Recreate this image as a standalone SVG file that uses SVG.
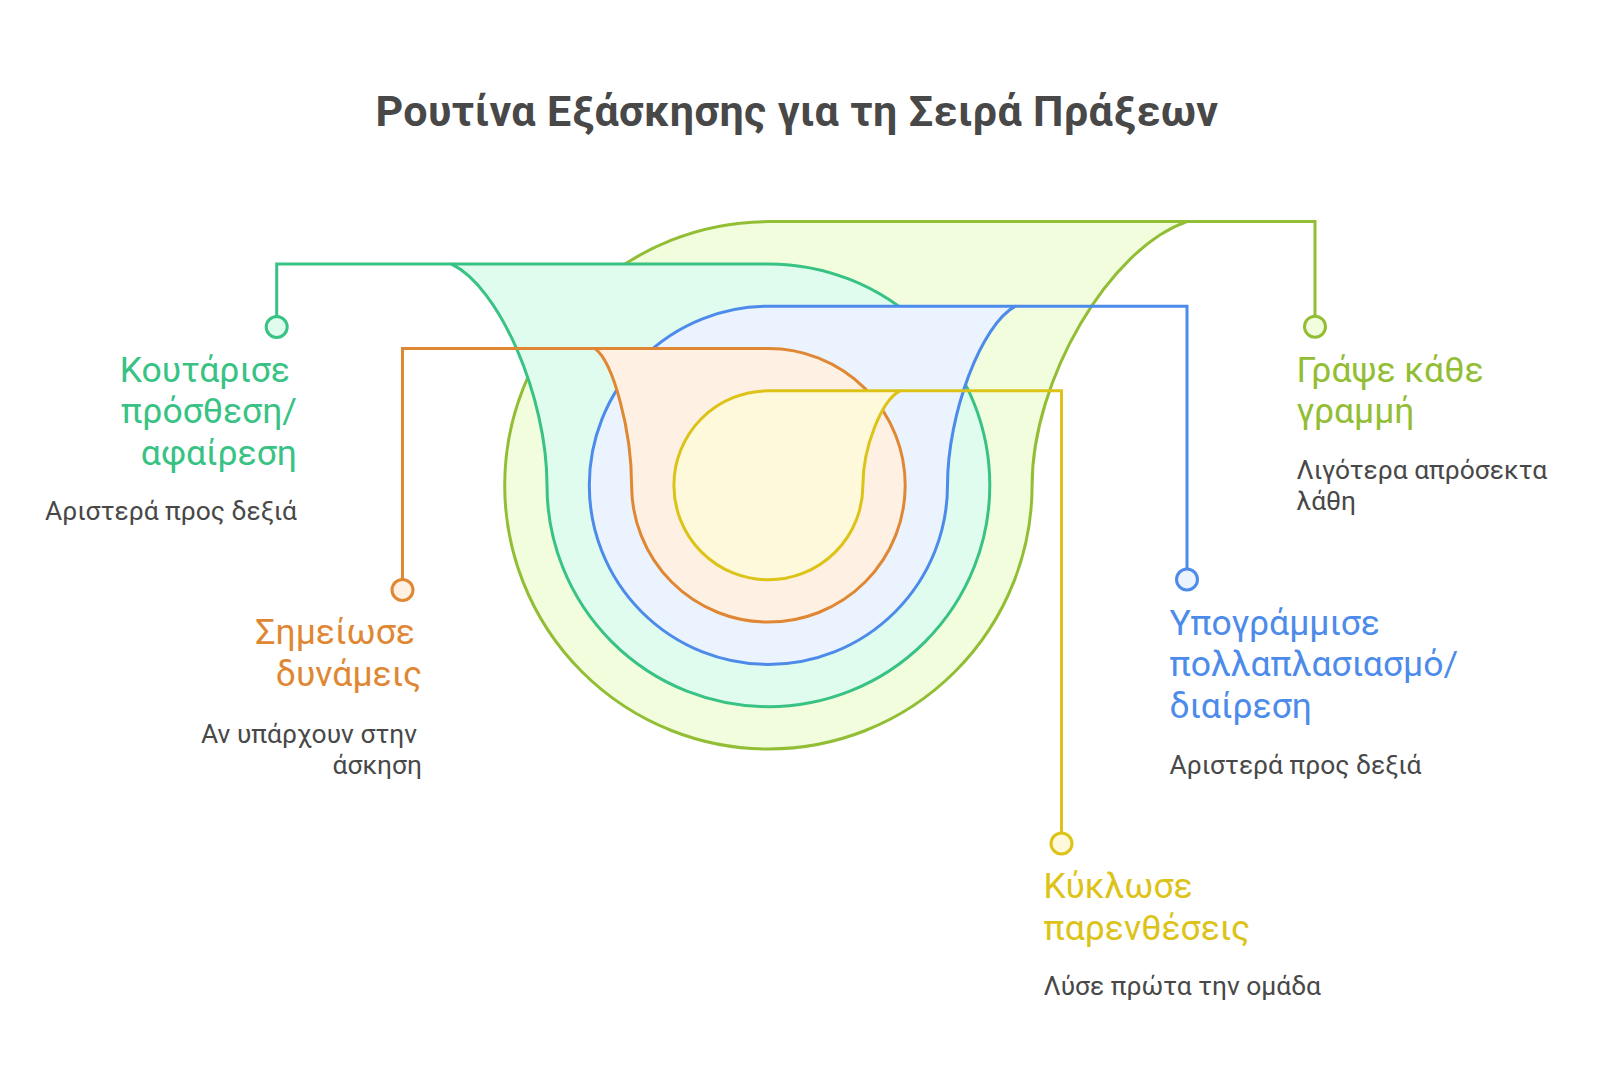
<svg xmlns="http://www.w3.org/2000/svg" width="1600" height="1087" viewBox="0 0 1600 1087">
<style>
.title{font-family:Roboto,"Liberation Sans",sans-serif;font-weight:700;font-size:43px;letter-spacing:0.4px;fill:#484848}
.lbl{font-family:Roboto,"Liberation Sans",sans-serif;font-size:35.5px}
.desc{font-family:Roboto,"Liberation Sans",sans-serif;font-size:26.4px;fill:#484848}
.shape{stroke-width:3;stroke-linejoin:round}
.conn{fill:none;stroke-width:3}
.dot{stroke-width:3}
.lime{stroke:#92BE35}.limef{fill:#F1FDDD}.limet{fill:#92BE35}
.green{stroke:#38C284}.greenf{fill:#E0FCEF}.greent{fill:#38C284}
.blue{stroke:#4D8BEA}.bluef{fill:#EBF3FE}.bluet{fill:#4D8BEA}
.orange{stroke:#E08733}.orangef{fill:#FEF1E4}.oranget{fill:#E08733}
.yellow{stroke:#DDC317}.yellowf{fill:#FEF9DB}.yellowt{fill:#DDC317}
</style>
<rect width="1600" height="1087" fill="#ffffff"/>
<text class="title" x="797" y="126" text-anchor="middle">Ρουτίνα Εξάσκησης για τη Σειρά Πράξεων</text>

<g id="lime-node">
<path class="shape lime limef" d="M 1187 221.6 H 768.4 A 263.7 263.7 0 0 0 504.7 485.3 A 263.7 263.7 0 0 0 768.4 749 A 263.7 263.7 0 0 0 1032.1 485.3 C 1032.1 379.8 1109.6 248 1187 221.6 Z"/>
</g>
<g id="green-node">
<path class="shape green greenf" d="M 451 263.9 H 768.4 A 221.4 221.4 0 0 1 989.8 485.3 A 221.4 221.4 0 0 1 768.4 706.7 A 221.4 221.4 0 0 1 547 485.3 C 547 396.7 499 286 451 263.9 Z"/>
</g>
<g id="blue-node">
<path class="shape blue bluef" d="M 1015.5 306.2 H 768.4 A 179.1 179.1 0 0 0 589.3 485.3 A 179.1 179.1 0 0 0 768.4 664.4 A 179.1 179.1 0 0 0 947.5 485.3 C 947.5 413.7 981.5 324.1 1015.5 306.2 Z"/>
</g>
<g id="orange-node">
<path class="shape orange orangef" d="M 595 348.5 H 768.4 A 136.8 136.8 0 0 1 905.2 485.3 A 136.8 136.8 0 0 1 768.4 622.1 A 136.8 136.8 0 0 1 631.6 485.3 C 631.6 430.6 613.3 362.2 595 348.5 Z"/>
</g>
<g id="yellow-node">
<path class="shape yellow yellowf" d="M 900 390.8 H 768.4 A 94.5 94.5 0 0 0 673.9 485.3 A 94.5 94.5 0 0 0 768.4 579.8 A 94.5 94.5 0 0 0 862.9 485.3 C 862.9 447.5 881.5 400.3 900 390.8 Z"/>
</g>

<g id="connectors">
<path class="conn lime" d="M 1187 221.6 H 1315 V 316.2"/>
<path class="conn green" d="M 451 263.9 H 276.7 V 316.5"/>
<path class="conn blue" d="M 1015.5 306.2 H 1187 V 569"/>
<path class="conn orange" d="M 595 348.5 H 402.5 V 579.5"/>
<path class="conn yellow" d="M 900 390.8 H 1061.5 V 833"/>
</g>

<g id="lime-label">
<circle class="dot lime limef" cx="1315" cy="326.7" r="10.5"/>
<text class="lbl limet" x="1296.5" y="381.7">Γράψε κάθε</text>
<text class="lbl limet" x="1296.5" y="423.4">γραμμή</text>
<text class="desc" x="1296.5" y="479.3">Λιγότερα απρόσεκτα</text>
<text class="desc" x="1296.5" y="510">λάθη</text>
</g>
<g id="green-label">
<circle class="dot green greenf" cx="276.7" cy="327" r="10.5"/>
<text class="lbl greent" x="290" y="381.5" text-anchor="end">Κουτάρισε</text>
<text class="lbl greent" x="297" y="423.2" text-anchor="end">πρόσθεση/</text>
<text class="lbl greent" x="297" y="464.9" text-anchor="end">αφαίρεση</text>
<text class="desc" x="297" y="520" text-anchor="end">Αριστερά προς δεξιά</text>
</g>
<g id="blue-label">
<circle class="dot blue bluef" cx="1187" cy="579.5" r="10.5"/>
<text class="lbl bluet" x="1169.5" y="634.5">Υπογράμμισε</text>
<text class="lbl bluet" x="1169.5" y="676.2">πολλαπλασιασμό/</text>
<text class="lbl bluet" x="1169.5" y="717.9">διαίρεση</text>
<text class="desc" x="1169.5" y="773.5">Αριστερά προς δεξιά</text>
</g>
<g id="orange-label">
<circle class="dot orange orangef" cx="402.5" cy="590" r="10.5"/>
<text class="lbl oranget" x="415" y="644" text-anchor="end">Σημείωσε</text>
<text class="lbl oranget" x="422" y="685.7" text-anchor="end">δυνάμεις</text>
<text class="desc" x="417" y="742.7" text-anchor="end">Αν υπάρχουν στην</text>
<text class="desc" x="422" y="773.5" text-anchor="end">άσκηση</text>
</g>
<g id="yellow-label">
<circle class="dot yellow yellowf" cx="1061.5" cy="843.5" r="10.5"/>
<text class="lbl yellowt" x="1043.5" y="898.3">Κύκλωσε</text>
<text class="lbl yellowt" x="1043.5" y="940">παρενθέσεις</text>
<text class="desc" x="1043.5" y="995">Λύσε πρώτα την ομάδα</text>
</g>
</svg>
